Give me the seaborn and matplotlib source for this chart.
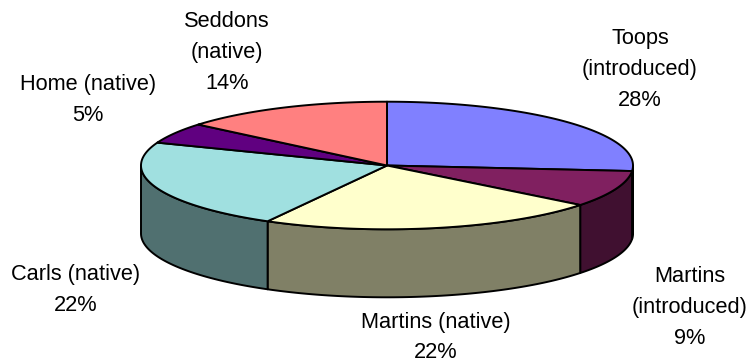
import numpy as np
import matplotlib
matplotlib.use("Agg")
import matplotlib.pyplot as plt
import seaborn as sns

# Share of sites per population, clockwise from twelve o'clock
names = ["Toops\n(introduced)", "Martins\n(introduced)", "Martins (native)",
         "Carls (native)", "Home (native)", "Seddons\n(native)"]
shares = [28, 9, 22, 22, 5, 14]
top_colors = ["#8080FF", "#802060", "#FFFFCC", "#A0E0E0", "#600080", "#FF8080"]
label_centers = [(640, 69.5), (690, 307.5), (436, 337.5), (76, 290), (88, 100), (227, 52.5)]

sns.set_theme(style="white")
plt.rcParams["font.family"] = ["Liberation Sans", "DejaVu Sans"]

CX, CY, RX, RY, DEPTH = 387.0, 165.5, 246.0, 63.8, 68.0


def view_angle(theta):
    """Shift slice angles the way the tilted 3D view foreshortens them."""
    return (theta - np.radians(2.0) * np.sin(theta)
            - np.radians(1.8) * (1 - np.cos(theta))
            - np.radians(0.6) * np.sin(2 * theta)
            - np.radians(1.0) * (1 - np.cos(2 * theta)))


def rim(theta, drop=0.0):
    return CX + RX * np.sin(theta), CY - RY * np.cos(theta) + drop


fig = plt.figure(figsize=(7.49, 3.62), dpi=100)
ax = fig.add_axes([0, 0, 1, 1])
ax.set_xlim(0, 749)
ax.set_ylim(362, 0)
ax.axis("off")

edges = view_angle(np.radians(np.concatenate([[0], np.cumsum(shares)]) * 3.6))
edge_kw = dict(edgecolor="black", linewidth=1.4, joinstyle="round")

# Outer wall: only the part of each slice that faces the viewer
for start, stop, color in zip(edges[:-1], edges[1:], top_colors):
    lo, hi = max(start, np.pi / 2), min(stop, 3 * np.pi / 2)
    if hi <= lo:
        continue
    t = np.linspace(lo, hi, 80)
    x, y = rim(t)
    xd, yd = rim(t[::-1], DEPTH)
    shade = np.array(matplotlib.colors.to_rgb(color)) * 0.5
    ax.fill(np.r_[x, xd], np.r_[y, yd], facecolor=shade, zorder=2, **edge_kw)

# Top face of the pie
for start, stop, color in zip(edges[:-1], edges[1:], top_colors):
    t = np.linspace(start, stop, 120)
    x, y = rim(t)
    ax.fill(np.r_[CX, x], np.r_[CY, y], facecolor=color, zorder=3, **edge_kw)

# Category name above its percentage
for name, share, (lx, ly) in zip(names, shares, label_centers):
    ax.text(lx, ly, f"{name}\n{share}%", ha="center", va="center",
            fontsize=15.7, color="black", linespacing=1.6, zorder=4)

fig.savefig("out.png", dpi=100)
